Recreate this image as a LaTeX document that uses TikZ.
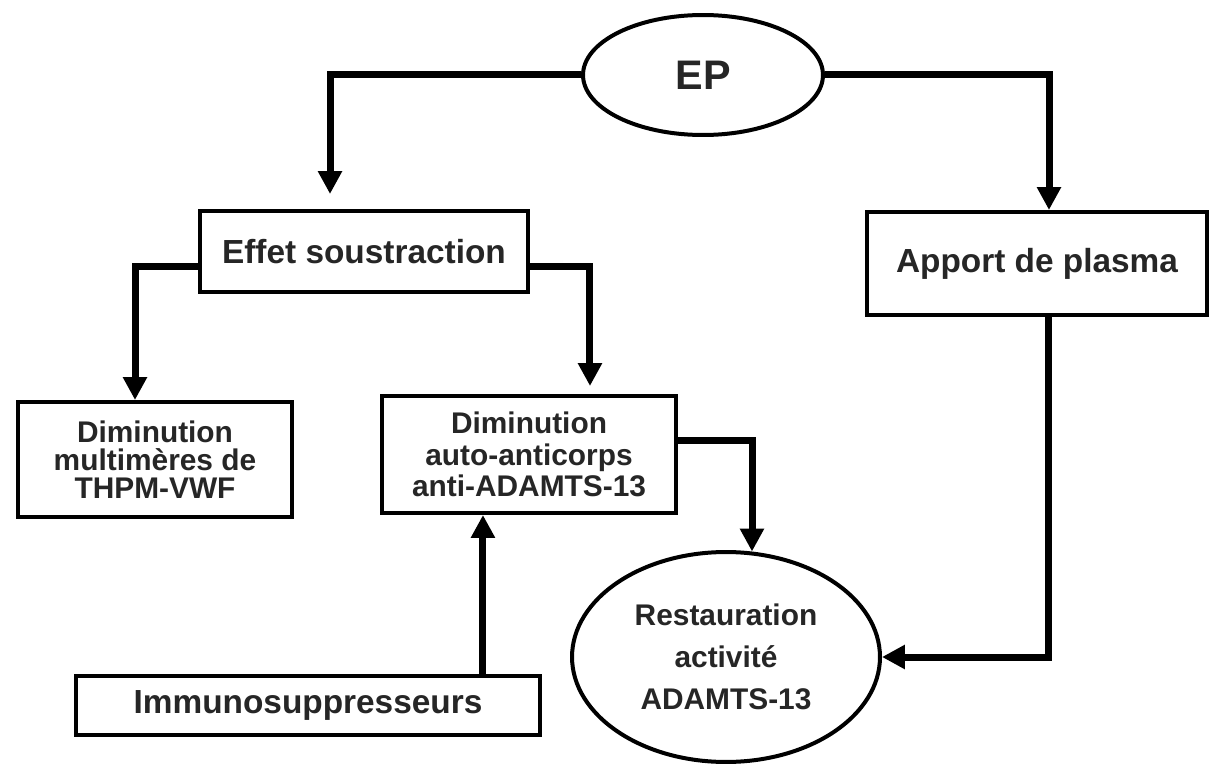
\documentclass[tikz,border=0pt]{standalone}
\usepackage{fontspec}
\setmainfont{Liberation Sans}
\usetikzlibrary{shapes.geometric,arrows.meta}
\begin{document}
\begin{tikzpicture}[x=0.02cm,y=-0.02cm,
  box/.style={draw=black,line width=0.08cm,rectangle,inner sep=0pt,align=center,text=black!85,font=\bfseries},
  oval/.style={draw=black,line width=0.08cm,ellipse,inner sep=0pt,align=center,text=black!85,font=\bfseries},
  conn/.style={draw=black,line width=0.14cm},
  arr/.style={conn,-{Triangle[length=0.46cm,width=0.46cm]}}]
\useasboundingbox (0,0) rectangle (1211,767);
\fill[white] (0,0) rectangle (1211,767);
\node[oval,minimum width=4.8cm,minimum height=2.4cm,font=\bfseries\fontsize{23.5}{28}\selectfont] (ep) at (703,75) {EP};
\node[box,minimum width=6.56cm,minimum height=1.62cm,font=\bfseries\fontsize{19}{22}\selectfont] (effet) at (364,251.5) {Effet soustraction};
\node[box,minimum width=6.8cm,minimum height=2.06cm,font=\bfseries\fontsize{19}{22}\selectfont] (apport) at (1037,263.5) {Apport de plasma};
\node[box,minimum width=5.48cm,minimum height=2.3cm,font=\bfseries\fontsize{17}{16}\selectfont] (dim1) at (155,459.5) {Diminution\\multimères de\\THPM-VWF};
\node[box,minimum width=5.88cm,minimum height=2.34cm,font=\bfseries\fontsize{17}{18}\selectfont] (dim2) at (529,454.5) {Diminution\\auto-anticorps\\anti-ADAMTS-13};
\node[box,minimum width=9.28cm,minimum height=1.18cm,font=\bfseries\fontsize{19}{22}\selectfont] (immuno) at (308,705.5) {Immunosuppresseurs};
\node[oval,minimum width=6.16cm,minimum height=4.2cm,font=\bfseries\fontsize{17}{24}\selectfont] (rest) at (726,657) {Restauration\\activité\\ADAMTS-13};
% connectors
\draw[arr,shorten >=0.3cm] (ep.west) -| ([xshift=-0.68cm]effet.north);
\draw[arr] (ep.east) -| ([xshift=0.24cm]apport.north);
\draw[arr] ([yshift=-0.31cm]effet.west) -| ([xshift=-0.4cm]dim1.north);
\draw[arr,shorten >=0.16cm] ([yshift=-0.31cm]effet.east) -| ([xshift=1.22cm]dim2.north);
\draw[arr] ([yshift=0.29cm]dim2.east) -| ([xshift=0.52cm,yshift=-0.03cm]rest.north);
\draw[arr] ([xshift=0.22cm]apport.south) |- (rest.east);
\coordinate (i1) at ([xshift=3.5cm]immuno.north);
\draw[arr] (i1) -- (i1 |- dim2.south);
\end{tikzpicture}
\end{document}
